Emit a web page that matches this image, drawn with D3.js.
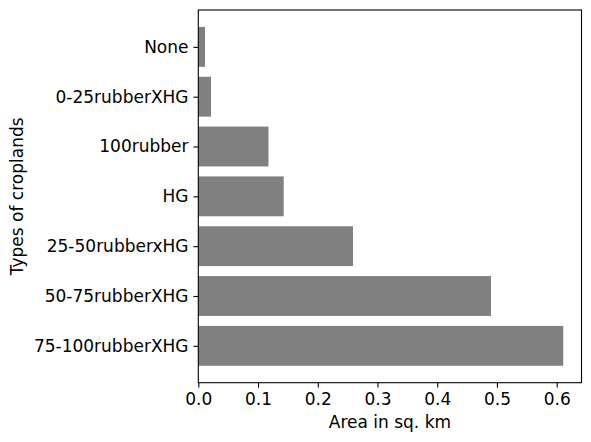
<!DOCTYPE html>
<html>
<head>
<meta charset="utf-8">
<script src="https://cdn.jsdelivr.net/npm/d3@7"></script>
<style>
  html, body { margin: 0; padding: 0; background: #fff; }
  svg { display: block; }
  text { font-family: "DejaVu Sans", sans-serif; fill: #000; }
</style>
</head>
<body>
<svg id="chart" width="591" height="442"></svg>
<script>
// Data (bottom to top)
const categories = ["75-100rubberXHG", "50-75rubberXHG", "25-50rubberxHG", "HG", "100rubber", "0-25rubberXHG", "None"];
const areas = [0.611, 0.490, 0.259, 0.143, 0.1175, 0.0213, 0.0112];
const xTicks = [0.0, 0.1, 0.2, 0.3, 0.4, 0.5, 0.6];
const xLabel = "Area in sq. km";
const yLabel = "Types of croplands";

(function () {
const svg = d3.select("#chart");
const mLeft = 198.3, mRight = 581.5, mTop = 10, mBottom = 382.7;
const fs = 17;
const tickLen = 4.9, tickPad = 4.9;

const xMax = d3.max(areas) * 1.05;
const x = d3.scaleLinear().domain([0, xMax]).range([mLeft, mRight]);
const n = categories.length;
const yLo = -0.4 - 0.05 * (n - 1 + 0.8), yHi = n - 1 + 0.4 + 0.05 * (n - 1 + 0.8);
const y = d3.scaleLinear().domain([yLo, yHi]).range([mBottom, mTop]);

// bars
svg.append("g").selectAll("rect").data(areas).join("rect")
  .attr("x", x(0))
  .attr("y", (d, i) => y(i + 0.4))
  .attr("width", d => x(d) - x(0))
  .attr("height", (d, i) => y(i - 0.4) - y(i + 0.4))
  .attr("fill", "#808080");

// x axis
const xAxis = d3.axisBottom(x).tickValues(xTicks).tickFormat(d3.format(".1f"))
  .tickSize(tickLen).tickPadding(tickPad);
const gx = svg.append("g").attr("transform", `translate(0,${mBottom})`).call(xAxis);
gx.select(".domain").remove();
gx.selectAll(".tick line").attr("stroke", "#000").attr("stroke-width", 1.1);
gx.selectAll(".tick text").attr("font-size", fs).attr("font-family", "DejaVu Sans").attr("fill", "#000");

// y axis
const yAxis = d3.axisLeft(y).tickValues(d3.range(n)).tickFormat(i => categories[i])
  .tickSize(tickLen).tickPadding(tickPad);
const gy = svg.append("g").attr("transform", `translate(${mLeft},0)`).call(yAxis);
gy.select(".domain").remove();
gy.selectAll(".tick line").attr("stroke", "#000").attr("stroke-width", 1.1);
gy.selectAll(".tick text").attr("font-size", fs).attr("font-family", "DejaVu Sans").attr("fill", "#000");

// spines
svg.append("rect").attr("x", mLeft).attr("y", mTop)
  .attr("width", mRight - mLeft).attr("height", mBottom - mTop)
  .attr("fill", "none").attr("stroke", "#000").attr("stroke-width", 1.1);

// labels
svg.append("text").attr("x", (mLeft + mRight) / 2).attr("y", 428)
  .attr("text-anchor", "middle").attr("font-size", fs).text(xLabel);
svg.append("text")
  .attr("transform", `translate(23,${(mTop + mBottom) / 2}) rotate(-90)`)
  .attr("text-anchor", "middle").attr("font-size", fs).text(yLabel);
})();
</script>
</body>
</html>
